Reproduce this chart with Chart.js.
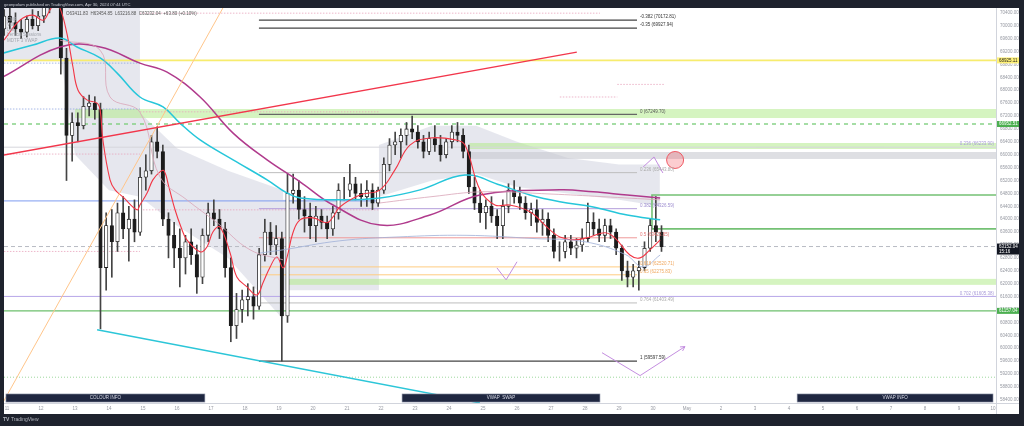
<!DOCTYPE html>
<html>
<head>
<meta charset="utf-8">
<script src="https://cdn.jsdelivr.net/npm/chart.js@4.4.1/dist/chart.umd.min.js"></script>
<style>
  html, body { margin: 0; padding: 0; background: #1e222d; }
  canvas { display: block; }
</style>
</head>
<body>
<canvas id="chart" width="1024" height="426"></canvas>
<script>
// BTC/USDT, 4h candles, Apr 10 20:00 -> Apr 30 04:00 (UTC). time = "day hour"
const candleTime = [
  '10 20',
  '11 0','11 4','11 8','11 12','11 16','11 20',
  '12 0','12 4','12 8','12 12','12 16','12 20',
  '13 0','13 4','13 8','13 12','13 16','13 20',
  '14 0','14 4','14 8','14 12','14 16','14 20',
  '15 0','15 4','15 8','15 12','15 16','15 20',
  '16 0','16 4','16 8','16 12','16 16','16 20',
  '17 0','17 4','17 8','17 12','17 16','17 20',
  '18 0','18 4','18 8','18 12','18 16','18 20',
  '19 0','19 4','19 8','19 12','19 16','19 20',
  '20 0','20 4','20 8','20 12','20 16','20 20',
  '21 0','21 4','21 8','21 12','21 16','21 20',
  '22 0','22 4','22 8','22 12','22 16','22 20',
  '23 0','23 4','23 8','23 12','23 16','23 20',
  '24 0','24 4','24 8','24 12','24 16','24 20',
  '25 0','25 4','25 8','25 12','25 16','25 20',
  '26 0','26 4','26 8','26 12','26 16','26 20',
  '27 0','27 4','27 8','27 12','27 16','27 20',
  '28 0','28 4','28 8','28 12','28 16','28 20',
  '29 0','29 4','29 8','29 12','29 16','29 20',
  '30 0','30 4'
];
const open = [
  69900,
  70300,70100,69900,69800,70200,70000,
  70300,70600,70900,70800,69000,66600,
  67000,66900,67500,67600,67400,62500,
  63800,63300,64200,63700,64000,63600,
  65300,65500,66400,66100,64000,63500,
  63100,62800,63300,62900,62200,63500,
  64200,64000,63700,62500,60700,61200,
  61500,61600,61300,62900,63600,63200,
  63400,61000,64800,64900,64300,64100,
  63800,64100,63900,63700,64200,64900,
  64900,65100,64800,64700,64900,64500,
  64900,65700,66300,66400,66600,66800,
  66700,66400,66100,66500,66300,66000,
  66400,66700,66600,66100,65000,64500,
  64200,64400,64100,63800,64400,64900,
  64700,64500,64200,64300,63900,64000,
  63500,63000,63000,63300,63100,63200,
  63400,63900,63700,63500,63800,63600,
  63100,62400,62200,62400,62500,63100,
  63800,63600
];
const high = [
  70500,
  70600,70400,70200,70300,70500,70450,
  70800,71100,71200,71000,69300,67300,
  67300,67800,67850,67800,67600,64200,
  64300,64500,64700,64400,64600,65600,
  66000,66600,66870,66300,64200,63900,
  63700,63500,63700,63200,63700,64500,
  64600,64300,63900,62800,61700,61800,
  62000,61900,63100,64000,63900,63800,
  63600,65400,65400,65200,64700,64500,
  64400,64300,64100,64400,65100,65300,
  65700,65300,65100,65200,65100,65000,
  65900,66500,66700,66800,67000,67200,
  66900,66600,66700,66900,66600,66500,
  66900,67000,66800,66300,65300,64900,
  64600,64700,64300,64600,65100,65200,
  65000,64700,64500,64600,64300,64200,
  63700,63300,63500,63500,63400,63700,
  64500,64200,64000,64000,64000,63700,
  63200,62700,62600,62700,63300,64000,
  64700,63800
];
const low = [
  69700,
  69900,69700,69600,69650,69900,69850,
  70100,70400,70600,68500,65200,65800,
  66400,66800,67200,67100,60600,61800,
  62200,63000,63400,62700,63300,63500,
  64900,65400,65900,63800,62800,62500,
  61900,62300,62600,61700,62000,63300,
  63800,63400,62200,60200,60300,60800,
  61000,60900,61200,62700,62900,62900,
  59600,60800,64500,64000,63600,63400,
  63300,63700,63400,63500,64000,64600,
  64700,64600,64400,64400,64300,64400,
  64800,65500,66000,65900,66300,66500,
  66200,65900,66000,66100,65800,65900,
  66200,66400,65900,64800,64300,63900,
  63700,63900,63400,63400,64200,64500,
  64300,64000,63800,63600,63500,63300,
  62800,62700,62800,62900,62800,63000,
  63300,63500,63300,63300,63400,62900,
  62100,61900,61900,61800,62400,63000,
  63300,63000
];
const close = [
  70300,
  70100,69900,69800,70200,70000,70300,
  70600,70900,70800,69000,66600,67000,
  66900,67500,67600,67400,62500,63800,
  63300,64200,63700,64000,63600,65300,
  65500,66400,66100,64000,63500,63100,
  62800,63300,62900,62200,63500,64200,
  64000,63700,62500,60700,61200,61500,
  61600,61300,62900,63600,63200,63400,
  61000,64800,64900,64300,64100,63800,
  64100,63900,63700,64200,64900,64900,
  65100,64800,64700,64900,64500,64900,
  65700,66300,66400,66600,66800,66700,
  66400,66100,66500,66300,66000,66400,
  66700,66600,66100,65000,64500,64200,
  64400,64100,63800,64400,64900,64700,
  64500,64200,64300,63900,64000,63500,
  63000,63000,63300,63100,63200,63400,
  63900,63700,63500,63800,63600,63100,
  62400,62200,62400,62500,63100,63800,
  63600,63152.04
];

// moving averages: [day since Apr 11 00:00, price]
const emaFast = [
  [-0.09,69550],[0.38,70170],[0.76,70330],[1.06,70170],[1.26,70480],[1.41,70700],[1.56,70546],
  [1.76,69770],[1.94,68720],[2.09,68000],[2.35,67700],[2.65,67600],[2.74,67390],[2.82,66460],
  [3.03,65220],[3.18,64910],[3.41,64690],[3.82,64290],[3.91,64440],[4.12,64810],[4.29,65220],
  [4.5,65470],[4.62,65500],[4.76,65000],[4.94,64300],[5.12,63750],[5.29,63360],[5.68,62990],
  [5.88,63140],[6.06,63610],[6.26,63760],[6.56,62960],[6.76,62210],[7.06,61900],[7.35,61650],
  [7.53,62030],[7.74,62520],[7.94,62830],[8.12,62490],[8.24,62830],[8.41,63580],[8.62,63980],
  [9.0,64040],[9.41,63890],[9.59,64070],[9.79,64380],[10.38,64750],[10.97,64910],[11.41,65530],
  [11.85,66300],[12.44,66520],[13.18,66460],[13.47,66300],[13.91,64910],[14.35,64440],
  [14.79,64440],[15.38,64230],[15.97,63670],[16.26,63450],[16.71,63360],[17.15,63450],
  [17.59,63580],[17.88,63420],[18.32,62890],[18.62,62800],[18.91,63050],[19.21,63360]
];
const emaMid = [
  [-0.12,69150],[0.76,69400],[1.56,69620],[2.06,69340],[2.74,69000],[3.24,68530],[3.91,67790],
  [4.59,67480],[5.09,66980],[5.68,66460],[6.65,65840],[7.65,65220],[8.24,64810],[8.62,64660],
  [9.79,64600],[10.97,64660],[12.15,64910],[13.47,65370],[14.5,65060],[15.38,64750],
  [16.26,64540],[17.24,64380],[18.24,64130],[19.21,63980]
];
const emaSlow = [
  [-0.12,68410],[1.56,69340],[2.74,69340],[3.91,68840],[4.71,68560],[5.68,67790],[6.65,66670],
  [7.65,65840],[8.62,65160],[9.59,64440],[10.97,63820],[12.44,64130],[13.91,64750],
  [16.26,64910],[17.24,64850],[18.24,64750],[19.21,64660]
];
const anchoredVwap = [
  [1.56,69550],[2.74,69240],[3.03,67790],[3.91,67320],[4.5,65310],[5.29,64600],[6.18,63890],
  [7.15,63050],[8.12,62740]
];
const anchoredVwap2 = [
  [10.94,64500],[12.5,64700],[14,64850],[16,64780],[17.5,64700],[19.21,64600]
];
const vwapLowerBand = [
  [7.44,62950],[8.12,63050],[9.79,63330],[11.5,63450],[13.5,63500],[15.5,63400],[17.0,63300],
  [18.2,62900],[18.7,62520],[19.21,62890]
];

// shaded VWAP band areas: [day, price] outlines
const bandLeft = [[-0.09,70550],[3.91,70550],[3.91,64700],[3.0,64900],[2.0,66000],[1.6,68900],[-0.09,68900]];
const bandMid = [[3.91,67300],[5,66200],[6.5,65500],[8.12,64900],[8.12,60900],[6.5,62800],[5,63800],[3.91,64700]];
const bandBox = [[8.12,64600],[10.94,64600],[10.94,61800],[8.12,61800]];
const bandRight = [[10.94,66300],[12.5,66900],[13.8,66900],[15,66400],[16.5,65900],[18,65700],[19.2,65700],
                   [19.2,64400],[18,64600],[16.5,64800],[15,65000],[13.8,65400],[12.5,65200],[10.94,64700]];

// horizontal zones [from price, to price, from day]
const greenZones = [[67138,67417,2.0],[66177,66363,13.6],[61964,62150,8.2]];
const grayZone = [65868,66084,13.6];
const greenBox = [63699,64752,18.97];

// session levels [price, from day, to day]
const blueDotted = [[68840,-0.09,3.91],[67417,-0.09,3.91]];
const pinkDotted = [[70390,3.91,17.44],[66020,-0.09,3.91],[67330,3.91,10.94],[64290,3.91,10.94],
                    [63000,-0.09,3.91],[67790,16.26,17.95],[68180,17.95,19.35]];

// key levels
const yellowLevel = 68925.11;
const dashedGreenLevel = 66952.51;
const greenLevel = 61157.04;
const lastPrice = 63152.04;
const lastTime = '15:16';
const blueLevel = 64567;
const dottedGreenLevel = 59100;
const fib2Labels = ['0.236 (66233.90)', '0.702 (61605.38)'];
const fib2Prices = [66233.90, 61605.38];

// fib retracement (Apr 18 -> Apr 29)
const fibRatios = ['-0.382','-0.35','0','0.236','0.382','0.5','0.618','0.65','0.764','1'];
const fibPrices = [70172.81,69927.94,67249.70,65443.80,64326.59,63423.65,62520.71,62275.83,61403.49,59597.59];
const fibSpan = [7.41, 18.53];

// trend lines [[day, price],[day, price]]
const orangeTrend = [[-0.1,58350],[6.35,70550]];
const redTrend = [[-0.09,65990],[16.76,69180]];
const cyanTrend = [[2.65,60570],[13.91,58300]];
const caretPath = [[18.71,65620],[19.03,65930],[19.29,65434]];
const vPath = [[17.5,59860],[18.62,59150],[19.94,60050]];
const checkPath = [[14.41,62490],[14.68,62120],[15.0,62680]];
const circleAt = [19.65,65837];

// info tables along the bottom [from day, to day, label]
const infoBoxes = [[-0.03,5.82,'COLOUR INFO'],[11.62,17.44,'VWAP  SWAP'],[23.24,29.0,'VWAP INFO']];

const dayLabels = ['11','12','13','14','15','16','17','18','19','20','21','22','23','24','25',
  '26','27','28','29','30','May','2','3','4','5','6','7','8','9','10'];
const yTickValues = [58400,58800,59200,59600,60000,60400,60800,61200,61600,62000,62400,62800,
  63200,63600,64000,64400,64800,65200,65600,66000,66400,66800,67200,67600,68000,68400,68800,
  69200,69600,70000,70400];

const legendText = 'O63411.83  H63454.85  L63216.88  C63232.04  +63.80 (+0.10%)';
const indicatorNames = ['EMA', 'Vol', 'Lux', 'Vertical Sessions', 'MDTF 3 VWAP'];
const headerText = 'geonpolam published on TradingView.com, Apr 30, 2024 07:44 UTC';

const FONT = '"Liberation Sans", Arial, sans-serif';
const toDay = s => { const [d, h] = s.split(' ').map(Number); return (d - 11) + (h + 2) / 24; };
const pts = arr => arr.map(p => ({ x: p[0], y: p[1] }));

const wickData = candleTime.map((t, i) => ({ x: toDay(t), y: [low[i], high[i]] }));
const bodyData = candleTime.map((t, i) => ({ x: toDay(t), y: [open[i], close[i]] }));
const upDown = close.map((c, i) => c >= open[i]);

function drawPoly(ctx, sx, sy, arr, close) {
  ctx.beginPath();
  arr.forEach((p, i) => {
    const px = sx.getPixelForValue(p[0]), py = sy.getPixelForValue(p[1]);
    if (i === 0) ctx.moveTo(px, py); else ctx.lineTo(px, py);
  });
  if (close) ctx.closePath();
}

const drawings = {
  id: 'drawings',
  beforeDraw(chart) {
    const ctx = chart.ctx, a = chart.chartArea;
    const sx = chart.scales.x, sy = chart.scales.y;
    ctx.save();
    ctx.fillStyle = '#1e222d';
    ctx.fillRect(0, 0, chart.width, chart.height);
    ctx.fillStyle = '#ffffff';
    ctx.fillRect(a.left, a.top, sy.right - a.left, sx.bottom - a.top);
    ctx.strokeStyle = '#d1d4dc';
    ctx.lineWidth = 1;
    ctx.beginPath();
    ctx.moveTo(a.right + 0.5, a.top); ctx.lineTo(a.right + 0.5, sx.bottom);
    ctx.moveTo(a.left, a.bottom + 0.5); ctx.lineTo(sy.right, a.bottom + 0.5);
    ctx.stroke();
    ctx.restore();
  },
  beforeDatasetsDraw(chart) {
    const ctx = chart.ctx, a = chart.chartArea;
    const sx = chart.scales.x, sy = chart.scales.y;
    const X = v => sx.getPixelForValue(v), Y = v => sy.getPixelForValue(v);
    ctx.save();
    ctx.beginPath(); ctx.rect(a.left, a.top, a.right - a.left, a.bottom - a.top); ctx.clip();

    // VWAP band shading
    ctx.fillStyle = 'rgba(209,212,224,0.55)';
    [bandLeft, bandMid, bandBox, bandRight].forEach(b => { drawPoly(ctx, sx, sy, b, true); ctx.fill(); });

    // zones
    ctx.fillStyle = 'rgba(178,235,140,0.55)';
    greenZones.forEach(z => ctx.fillRect(X(z[2]), Y(z[1]), a.right - X(z[2]), Y(z[0]) - Y(z[1])));
    ctx.fillStyle = 'rgba(200,202,208,0.6)';
    ctx.fillRect(X(grayZone[2]), Y(grayZone[1]), a.right - X(grayZone[2]), Y(grayZone[0]) - Y(grayZone[1]));

    // session levels
    ctx.lineWidth = 0.8; ctx.setLineDash([1.5, 1.5]);
    const seg = (l, col) => {
      ctx.strokeStyle = col; ctx.beginPath();
      ctx.moveTo(X(l[1]), Y(l[0])); ctx.lineTo(X(l[2]), Y(l[0])); ctx.stroke();
    };
    blueDotted.forEach(l => seg(l, '#8fa6e0'));
    pinkDotted.forEach(l => seg(l, '#e8a5bd'));

    const hline = (price, from, color, width, dash) => {
      ctx.strokeStyle = color; ctx.lineWidth = width; ctx.setLineDash(dash || []);
      ctx.beginPath(); ctx.moveTo(from, Y(price)); ctx.lineTo(a.right, Y(price)); ctx.stroke();
    };
    hline(yellowLevel, a.left, '#f7ec6e', 1.6);
    hline(dashedGreenLevel, a.left, '#7fcf7f', 1.4, [4, 4]);
    hline(fib2Prices[0], a.left, '#d6d6dc', 1);
    hline(fib2Prices[1], a.left, '#b7a6e8', 1);
    hline(greenLevel, a.left, '#6cbf6c', 1.4);
    hline(dottedGreenLevel, a.left, '#9ed89e', 1, [1, 2]);
    hline(lastPrice, a.left, '#b8bbc4', 1, [4, 3]);
    ctx.strokeStyle = '#7d9cf0'; ctx.lineWidth = 1; ctx.setLineDash([]);
    ctx.beginPath(); ctx.moveTo(a.left, Y(blueLevel)); ctx.lineTo(X(10.94), Y(blueLevel)); ctx.stroke();

    // green box at the right
    ctx.strokeStyle = '#74c174'; ctx.lineWidth = 1.6;
    ctx.beginPath();
    ctx.moveTo(a.right, Y(greenBox[1])); ctx.lineTo(X(greenBox[2]), Y(greenBox[1]));
    ctx.lineTo(X(greenBox[2]), Y(greenBox[0])); ctx.lineTo(a.right, Y(greenBox[0]));
    ctx.stroke();

    // fib retracement lines
    const fibColors = ['#444','#444','#666','#bdbdbd','#b39ddb','#ef9a9a','#ffcc80','#ffcc80','#bdbdbd','#444'];
    fibPrices.forEach((p, i) => {
      ctx.strokeStyle = fibColors[i]; ctx.lineWidth = i < 3 || i === 9 ? 1.2 : 1;
      ctx.beginPath(); ctx.moveTo(X(fibSpan[0]), Y(p)); ctx.lineTo(X(fibSpan[1]), Y(p)); ctx.stroke();
    });
    ctx.restore();
  },
  afterDatasetsDraw(chart) {
    const ctx = chart.ctx, a = chart.chartArea;
    const sx = chart.scales.x, sy = chart.scales.y;
    const X = v => sx.getPixelForValue(v), Y = v => sy.getPixelForValue(v);
    ctx.save();
    ctx.beginPath(); ctx.rect(a.left, a.top, a.right - a.left, a.bottom - a.top); ctx.clip();

    // trend lines
    ctx.lineWidth = 1;
    ctx.strokeStyle = '#ffc58a'; drawPoly(ctx, sx, sy, orangeTrend); ctx.stroke();
    ctx.lineWidth = 1.4;
    ctx.strokeStyle = '#f2364b'; drawPoly(ctx, sx, sy, redTrend); ctx.stroke();
    ctx.strokeStyle = '#2cc6d8'; drawPoly(ctx, sx, sy, cyanTrend); ctx.stroke();
    ctx.lineWidth = 1;
    ctx.strokeStyle = '#c48ee0';
    [caretPath, vPath, checkPath].forEach(p => { drawPoly(ctx, sx, sy, p); ctx.stroke(); });
    // arrow head on the V
    const e = vPath[2], s = vPath[1];
    const ex = X(e[0]), ey = Y(e[1]);
    const ang = Math.atan2(ey - Y(s[1]), ex - X(s[0]));
    ctx.beginPath();
    ctx.moveTo(ex - 5 * Math.cos(ang - 0.5), ey - 5 * Math.sin(ang - 0.5));
    ctx.lineTo(ex, ey);
    ctx.lineTo(ex - 5 * Math.cos(ang + 0.5), ey - 5 * Math.sin(ang + 0.5));
    ctx.stroke();

    // circle marker
    ctx.fillStyle = 'rgba(242,54,69,0.25)'; ctx.strokeStyle = '#f05a64'; ctx.lineWidth = 1;
    ctx.beginPath(); ctx.arc(X(circleAt[0]), Y(circleAt[1]), 8.5, 0, Math.PI * 2); ctx.fill(); ctx.stroke();

    // fib labels
    ctx.font = '4.5px ' + FONT; ctx.textBaseline = 'middle'; ctx.textAlign = 'left';
    const fibText = ['#333','#333','#555','#aaa','#9f8fd0','#e57373','#f0a860','#f0a860','#aaa','#333'];
    fibPrices.forEach((p, i) => {
      ctx.fillStyle = fibText[i];
      ctx.fillText(fibRatios[i] + ' (' + p.toFixed(2) + ')', X(fibSpan[1]) + 3, Y(p) - 3);
    });
    ctx.fillStyle = '#a89ad8'; ctx.textAlign = 'right';
    fib2Prices.forEach((p, i) => ctx.fillText(fib2Labels[i], a.right - 2, Y(p) - 3));

    // info tables
    ctx.textAlign = 'center';
    infoBoxes.forEach(b => {
      const x0 = X(b[0]), x1 = X(b[1]), y0 = Y(58580), y1 = Y(58330);
      ctx.fillStyle = '#1f2740'; ctx.fillRect(x0, y0, x1 - x0, y1 - y0);
      ctx.strokeStyle = '#8d93a8'; ctx.lineWidth = 0.6; ctx.strokeRect(x0, y0, x1 - x0, y1 - y0);
      ctx.fillStyle = '#d8dbe6'; ctx.fillText(b[2], (x0 + x1) / 2, (y0 + y1) / 2);
    });

    // legend
    ctx.textAlign = 'left'; ctx.fillStyle = '#555';
    ctx.fillText(legendText, 66, 14);
    ctx.fillStyle = '#a3a6ae';
    indicatorNames.forEach((n, i) => ctx.fillText(n, 7, 19.5 + i * 5.2));
    ctx.restore();

    // price axis tags
    const tag = (price, bg, fg, txt, sub) => {
      const y = Y(price);
      const h = sub ? 11 : 6;
      ctx.fillStyle = bg; ctx.fillRect(a.right + 1, y - 3, 22, h);
      ctx.fillStyle = fg; ctx.font = '4.5px ' + FONT; ctx.textAlign = 'left'; ctx.textBaseline = 'middle';
      ctx.fillText(txt, a.right + 3, y);
      if (sub) ctx.fillText(sub, a.right + 3, y + 5);
    };
    tag(yellowLevel, '#fff176', '#222', yellowLevel.toFixed(2));
    tag(dashedGreenLevel, '#4caf50', '#fff', dashedGreenLevel.toFixed(2));
    tag(lastPrice, '#131722', '#fff', lastPrice.toFixed(2), lastTime);
    tag(greenLevel, '#4caf50', '#fff', greenLevel.toFixed(2));

    // header / footer text
    ctx.fillStyle = '#c8cbd4'; ctx.font = '4.2px ' + FONT; ctx.textAlign = 'left';
    ctx.fillText(headerText, 4, 4.5);
    ctx.fillStyle = '#b2b5be'; ctx.font = 'bold 5px ' + FONT;
    ctx.fillText('TV', 3, 420);
    ctx.font = '5px ' + FONT;
    ctx.fillText('TradingView', 11, 420);
    ctx.restore();
  }
};

const ctx = document.getElementById('chart').getContext('2d');
const chart = new Chart(ctx, {
  type: 'bar',
  data: {
    datasets: [
      { type: 'line', data: pts(anchoredVwap), borderColor: '#d9a5b8', borderWidth: 0.8,
        pointRadius: 0, tension: 0.4, order: 0 },
      { type: 'line', data: pts(anchoredVwap2), borderColor: '#d9a5b8', borderWidth: 0.8,
        pointRadius: 0, tension: 0.4, order: 0 },
      { type: 'line', data: pts(vwapLowerBand), borderColor: '#9fb0d8', borderWidth: 0.8,
        pointRadius: 0, tension: 0.4, order: 0 },
      { type: 'line', data: pts(emaFast), borderColor: '#f23645', borderWidth: 1.1,
        pointRadius: 0, tension: 0.4, order: 0 },
      { type: 'line', data: pts(emaMid), borderColor: '#26c6da', borderWidth: 1.5,
        pointRadius: 0, tension: 0.4, order: 0 },
      { type: 'line', data: pts(emaSlow), borderColor: '#b03a8c', borderWidth: 1.5,
        pointRadius: 0, tension: 0.4, order: 0 },
      { type: 'bar', data: bodyData, grouped: false, barThickness: 3.5,
        backgroundColor: upDown.map(u => u ? '#ffffff' : '#1c1c1c'),
        borderColor: '#1c1c1c', borderWidth: 0.8, borderSkipped: false, order: 1 },
      { type: 'bar', data: wickData, grouped: false, barThickness: 1,
        backgroundColor: '#444', order: 2 }
    ]
  },
  options: {
    responsive: false,
    animation: false,
    layout: { padding: { left: 4, top: 8, right: 5, bottom: 12 } },
    plugins: { legend: { display: false }, tooltip: { enabled: false } },
    scales: {
      x: {
        type: 'linear', offset: false, min: -0.088, max: 29.088,
        grid: { display: false, drawTicks: false }, border: { display: false },
        afterBuildTicks: s => { s.ticks = dayLabels.map((_, i) => ({ value: i })); },
        ticks: { callback: (v, i) => dayLabels[i], color: '#9598a1', font: { size: 4.5, family: FONT },
                 padding: 3, maxRotation: 0, autoSkip: false },
        afterFit: s => { s.height = 11; }
      },
      y: {
        position: 'right', min: 58300, max: 70550,
        grid: { display: false, drawTicks: false }, border: { display: false },
        afterBuildTicks: s => { s.ticks = yTickValues.map(v => ({ value: v })); },
        ticks: { callback: v => v.toFixed(2), color: '#9598a1', font: { size: 4.5, family: FONT },
                 padding: 4, autoSkip: false },
        afterFit: s => { s.width = 23; }
      }
    }
  },
  plugins: [drawings]
});
</script>
</body>
</html>
